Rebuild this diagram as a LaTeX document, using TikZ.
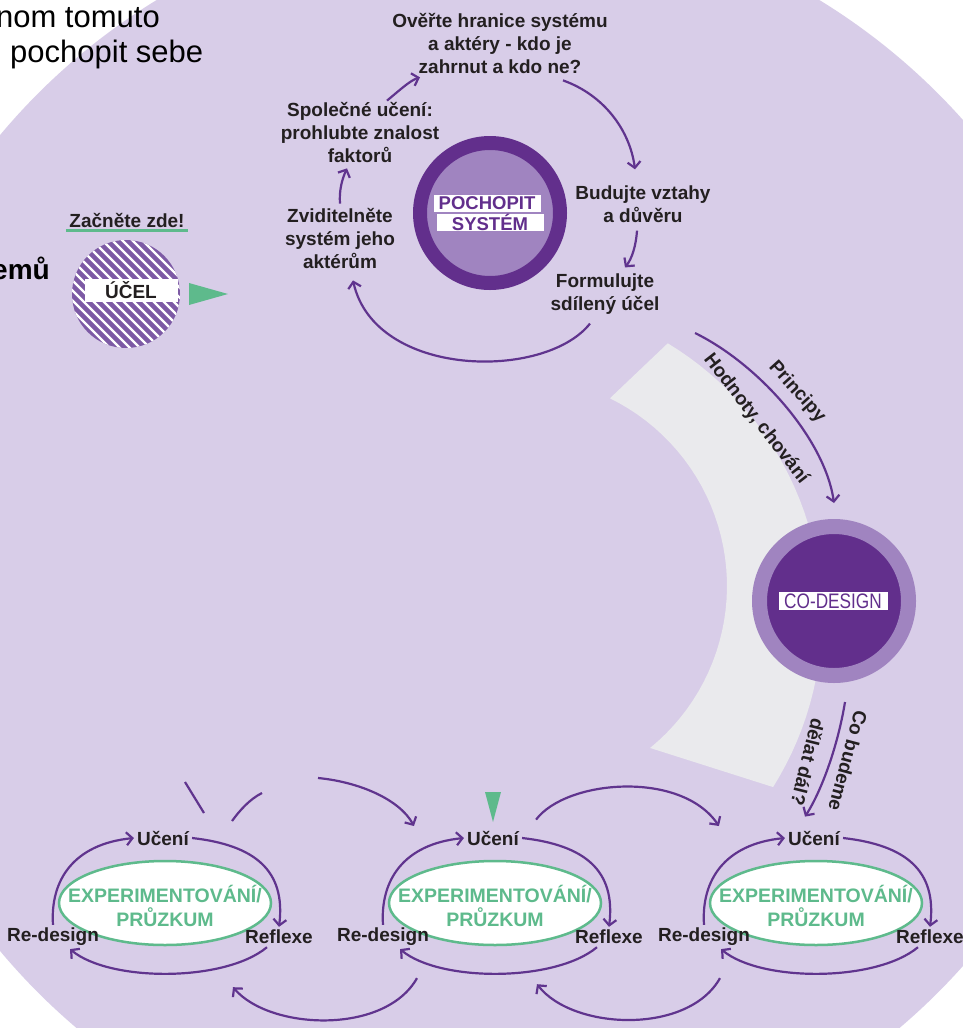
\documentclass[tikz,border=0pt]{standalone}
\usepackage{fontspec}
\setmainfont{Liberation Sans}
\newfontfamily\narrowsans[FakeStretch=0.82]{Liberation Sans}
\usetikzlibrary{arrows.meta,shapes.geometric,calc}

\definecolor{bgpurple}{RGB}{216,205,232}
\definecolor{darkpurple}{RGB}{98,47,140}
\definecolor{midpurple}{RGB}{160,132,192}
\definecolor{hatchpurple}{RGB}{125,90,165}
\definecolor{arrowpurple}{RGB}{96,52,142}
\definecolor{mint}{RGB}{94,186,140}
\definecolor{bandgrey}{RGB}{234,234,237}
\definecolor{inkgrey}{RGB}{35,31,32}

\tikzset{
  stagetext/.style={align=center, text=inkgrey, inner sep=1pt},
  word/.style={text=inkgrey, inner sep=3pt},
  tag/.style={fill=white, inner sep=0pt, text=darkpurple},
  ring/.style={ellipse, draw=mint, line width=2.5pt, fill=white, minimum width=212pt, minimum height=84pt},
  flow/.style={draw=arrowpurple, line width=2.2pt, -{Straight Barb[length=6pt,width=13pt]}},
  trace/.style={draw=arrowpurple, line width=2.2pt}
}

\begin{document}
\begin{tikzpicture}[x=1pt, y=-1pt, font=\fontsize{19}{23}\selectfont\bfseries]
\useasboundingbox (0,0) rectangle (963,1028);
\clip (0,0) rectangle (963,1028);
\fill[white] (0,0) rectangle (963,1028);
\fill[bgpurple] (488,543) circle[radius=636];
\fill[bandgrey] plot[domain=-58.8:32.1, samples=40] ({502+320*cos(\x)}, {617+320*sin(\x)})
  -- plot[domain=50.8:-63.9, samples=40] ({518+209*cos(\x)}, {586+209*sin(\x)}) -- cycle;

% text cut off at the page edge
\node[anchor=base east, inner sep=0pt, font=\fontsize{31}{36}\selectfont] (cuta) at (160,27) {nom tomuto};
\node[anchor=base west, inner sep=0pt, font=\fontsize{31}{36}\selectfont] (cutb) at (10,62) {pochopit sebe};
\node[anchor=base east, inner sep=0pt, font=\fontsize{28}{32}\selectfont\bfseries] (cutc) at (50,279) {emů};

% start
\node[word] (start) at (127,220) {Začněte zde!};
\draw[mint, line width=2.5pt] (start.south west) -- (start.south east);
\node[circle, fill=hatchpurple, minimum size=108pt, inner sep=0pt] (goal) at (126,294) {};
\begin{scope}
  \clip (126,294) circle[radius=54];
  \foreach \k in {-130,-120,...,130}
    \draw[white, line width=2.2pt] (126+\k-60,234) -- (126+\k+60,354);
\end{scope}
\node[tag, text=inkgrey, minimum width=93pt, minimum height=23pt] (goaltag) at (131,290) {ÚČEL};
\fill[mint] (189,283) -- (228,294) -- (189,305) -- cycle;

% pochopit system
\node[circle, fill=midpurple, draw=darkpurple, line width=14pt, minimum size=140pt, inner sep=0pt] (system) at (490,213) {};
\node[tag, minimum width=107pt, minimum height=17pt, font=\fontsize{18.5}{18}\selectfont\bfseries] (systema) at (487,203) {POCHOPIT};
\node[tag, minimum width=107pt, minimum height=17pt, font=\fontsize{18.5}{18}\selectfont\bfseries] (systemb) at (490,222) {SYSTÉM};

\node[stagetext] (verify) at (500,43) {Ověřte hranice systému\\a aktéry - kdo je\\zahrnut a kdo ne?};
\node[stagetext] (learn) at (360,132) {Společné učení:\\prohlubte znalost\\faktorů};
\node[stagetext] (visible) at (340,238) {Zviditelněte\\systém jeho\\aktérům};
\node[stagetext] (trust) at (643,204) {Budujte vztahy\\a důvěru};
\node[stagetext] (purpose) at (605,294) {Formulujte\\sdílený účel};

\draw[flow] ($(learn.north)+(27,0)$) .. controls +(11,-9) and +(-10,3) .. ($(verify.south)+(-80,3)$);
\draw[flow] ($(verify.south)+(63,6)$) .. controls +(42,15) and +(-5,-38) .. ($(trust.north)+(-8,-15)$);
\draw[flow] ($(trust.south)+(-6,7)$) .. controls +(-1,15) and +(7,-9) .. ($(purpose.north)+(20,-5)$);
\draw[flow] ($(purpose.south)+(-15,8)$) .. controls +(-45,57) and +(22,98) .. ($(visible.south)+(13,11)$);
\draw[flow] ($(visible.north)+(0,-3)$) .. controls +(-1,-13) and +(-5,11) .. ($(learn.south)+(-13,5)$);

% co-design
\node[circle, fill=darkpurple, draw=midpurple, line width=15pt, minimum size=149pt, inner sep=0pt] (codesign) at (834,601) {};
\node[tag, minimum width=109pt, minimum height=18pt, font=\narrowsans\fontsize{21}{20}\selectfont] (codesigntag) at (833,601) {CO-DESIGN};

\coordinate (principles) at (695,333);
\draw[flow] (principles) .. controls (760,365) and (825,440) .. ($(codesign.north)+(0,-16)$);
\node[word, inner sep=0pt, rotate=-48] (principy) at (797,392) {Principy};
\node[word, inner sep=0pt, rotate=-52] (values) at (756,419) {Hodnoty, chování};

% loops
\foreach \i/\cx in {1/165, 2/495, 3/816} {
  \node[ring] (exp\i) at (\cx,903) {};
  \node[text=mint, align=center, inner sep=0pt, font=\fontsize{19.5}{24}\selectfont\bfseries] (expt\i) at (\cx,906) {EXPERIMENTOVÁNÍ/\\PRŮZKUM};
  \node[word] (uc\i) at (\cx-2,838) {Učení};
  \node[word] (rf\i) at (\cx+114,937) {Reflexe};
  \node[word] (rd\i) at (\cx-112,937) {Re-design};
  \draw[flow] (rd\i.north) .. controls +(-3,-45) and +(-60,6) .. (uc\i.west);
  \draw[flow] (uc\i.east) .. controls +(62,7) and +(7,-57) .. (rf\i.north);
  \draw[flow] ($(rf\i.south)+(-12,0)$) .. controls +(-42,35) and +(40,33) .. ($(rd\i.south)+(17,0)$);
}

\coordinate (next) at (845,702);
\draw[flow] (next) .. controls (838,745) and (822,790) .. ($(uc3.north)+(-9,-11)$);
\node[word, inner sep=0pt, rotate=-105] (nexta) at (848,761) {Co budeme};
\node[word, inner sep=0pt, rotate=-104] (nextb) at (808,762) {dělat dál?};

% between loops
\draw[trace] (185,782) -- (204,813);
\draw[trace] (232,821) .. controls (240,810) and (250,799) .. (262,793);
\coordinate (carry) at (318,778);
\draw[flow] (carry) .. controls (360,782) and (400,800) .. ($(uc2.west)+(-50,-12)$);
\draw[flow] ($(uc2.north east)+(14,-8)$) .. controls +(30,-40) and +(-38,-56) .. ($(uc3.west)+(-66,-12)$);
\draw[flow] ($(rd2.south)+(34,29)$) .. controls +(-32,57) and +(37,43) .. ($(rf1.south)+(-46,40)$);
\draw[flow] ($(rd3.south)+(16,29)$) .. controls +(-32,57) and +(36,46) .. ($(rf2.south)+(-72,37)$);
\fill[mint] (485,792) -- (501,792) -- (493,822) -- cycle;
\end{tikzpicture}
\end{document}
